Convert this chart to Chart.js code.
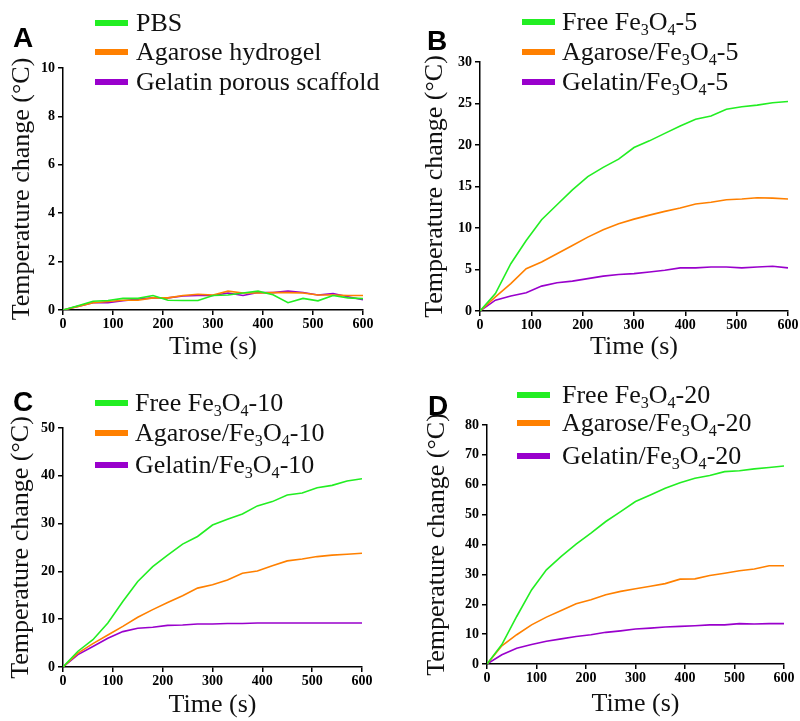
<!DOCTYPE html>
<html><head><meta charset="utf-8">
<script src="https://cdn.jsdelivr.net/npm/chart.js@4/dist/chart.umd.min.js"></script>
<style>
body{margin:0;background:#fff;width:800px;height:721px;position:relative;overflow:hidden}
.panel{position:absolute}
.panel canvas{position:absolute;left:0;top:0}
.letter{position:absolute;font:bold 28px 'Liberation Sans',Arial,sans-serif;color:#000;line-height:1}
.row{position:absolute;white-space:nowrap;font:26px 'Liberation Serif','Times New Roman',serif;color:#111;line-height:30px;height:30px}
.sw{position:absolute;width:33px;height:6px}
sub{font-size:0.62em;vertical-align:-0.28em;line-height:0}
</style></head><body>
<script>
// ---- data ----
const time = [0,30,60,90,120,150,180,210,240,270,300,330,360,390,420,450,480,510,540,570,600];

const labelsA = ['PBS','Agarose hydrogel','Gelatin porous scaffold'];
const A_pbs     = [0,0.18,0.36,0.39,0.48,0.48,0.6,0.4,0.39,0.39,0.6,0.62,0.7,0.78,0.63,0.3,0.48,0.38,0.6,0.5,0.47];
const A_agarose = [0,0.15,0.3,0.35,0.4,0.4,0.5,0.5,0.6,0.65,0.62,0.78,0.7,0.7,0.72,0.72,0.7,0.62,0.62,0.6,0.6];
const A_gelatin = [0,0.15,0.3,0.3,0.38,0.45,0.5,0.5,0.58,0.6,0.6,0.7,0.6,0.72,0.72,0.78,0.72,0.62,0.68,0.55,0.42];

const labelsB = ['Free Fe₃O₄-5','Agarose/Fe₃O₄-5','Gelatin/Fe₃O₄-5'];
const B_free    = [0,2.1,5.7,8.5,11.0,12.8,14.6,16.2,17.3,18.3,19.7,20.5,21.4,22.3,23.1,23.5,24.3,24.6,24.8,25.1,25.25];
const B_agarose = [0,1.7,3.3,5.1,5.9,6.9,7.9,8.9,9.8,10.5,11.07,11.55,12.0,12.4,12.9,13.1,13.4,13.5,13.65,13.6,13.5];
const B_gelatin = [0,1.3,1.8,2.2,3.0,3.4,3.6,3.9,4.2,4.4,4.5,4.7,4.9,5.2,5.2,5.3,5.3,5.2,5.3,5.4,5.2];

const labelsC = ['Free Fe₃O₄-10','Agarose/Fe₃O₄-10','Gelatin/Fe₃O₄-10'];
const C_free    = [0,3.3,5.7,9.2,13.7,17.9,21.0,23.4,25.7,27.3,29.7,30.9,32.0,33.7,34.6,36.0,36.4,37.5,38.0,38.9,39.4];
const C_agarose = [0,2.9,4.9,6.7,8.5,10.4,12.0,13.5,14.9,16.5,17.2,18.2,19.6,20.1,21.2,22.2,22.6,23.1,23.4,23.6,23.8];
const C_gelatin = [0,2.6,4.3,6.0,7.4,8.1,8.3,8.7,8.8,9.0,9.0,9.1,9.1,9.2,9.2,9.2,9.2,9.2,9.2,9.2,9.2];

const labelsD = ['Free Fe₃O₄-20','Agarose/Fe₃O₄-20','Gelatin/Fe₃O₄-20'];
const D_free    = [0,6.5,15.9,24.8,31.5,36.0,40.1,43.8,47.7,51.0,54.4,56.6,58.8,60.7,62.2,63.1,64.4,64.7,65.3,65.8,66.3];
const D_agarose = [0,6.1,9.8,13.1,15.7,17.9,20.2,21.5,23.2,24.3,25.2,26.0,26.9,28.4,28.5,29.6,30.4,31.2,31.8,32.9,32.9];
const D_gelatin = [0,3.1,5.3,6.5,7.6,8.4,9.2,9.8,10.6,11.1,11.7,12.0,12.4,12.6,12.8,13.1,13.1,13.5,13.4,13.5,13.5];

const yMaxes = {A:10, B:30, C:50, D:80};
const ySteps = {A:2, B:5, C:10, D:10};
const xTitle = 'Time (s)';
const yTitle = 'Temperature change (°C)';
const colors = ['#22ee22','#ff8000','#9900cc'];

// ---- layout ----
const panels = [
  {id:'A', left:0,   top:0,   w:400, h:360, labels:labelsA, series:[A_pbs,A_agarose,A_gelatin],
   yW:63, padT:68, padR:37, xH:50, yTitlePad:9, xTitlePad:0,
   letter:[13,24], legend:{x:95, tx:136, y:[8,37,67]}},
  {id:'B', left:400, top:0,   w:400, h:360, labels:labelsB, series:[B_free,B_agarose,B_gelatin],
   yW:80, padT:62, padR:12, xH:49, yTitlePad:22, xTitlePad:0,
   letter:[427,27], legend:{x:522, tx:562, y:[7,37,67]}},
  {id:'C', left:0,   top:360, w:400, h:361, labels:labelsC, series:[C_free,C_agarose,C_gelatin],
   yW:63, padT:68, padR:38, xH:54, yTitlePad:8, xTitlePad:3,
   letter:[13,388], legend:{x:95, tx:135, y:[388,418,450]}},
  {id:'D', left:400, top:360, w:400, h:361, labels:labelsD, series:[D_free,D_agarose,D_gelatin],
   yW:87, padT:65, padR:16, xH:57, yTitlePad:24, xTitlePad:4,
   letter:[428,392], legend:{x:517, tx:562, y:[380,408,441]}}
];

const tickFont = {family:"'Liberation Serif','Times New Roman',serif", size:14, weight:'bold'};
const titleFont = {family:"'Liberation Serif','Times New Roman',serif", size:26, lineHeight:1};

function toHTML(s){ return s.replace(/₃/g,'<sub>3</sub>').replace(/₄/g,'<sub>4</sub>'); }

panels.forEach(p => {
  const div = document.createElement('div');
  div.className = 'panel';
  div.style.cssText = `left:${p.left}px;top:${p.top}px;width:${p.w}px;height:${p.h}px`;
  const cv = document.createElement('canvas');
  cv.width = p.w; cv.height = p.h;
  cv.style.width = p.w+'px'; cv.style.height = p.h+'px';
  div.appendChild(cv);
  document.body.appendChild(div);

  const datasets = p.series.map((vals,i) => ({
    label: p.labels[i],
    data: time.map((t,k) => ({x:t, y:vals[k]})),
    borderColor: colors[i],
    backgroundColor: colors[i],
    borderWidth: 1.6,
    pointRadius: 0,
    tension: 0,
    fill: false
  }));

  const chart = new Chart(cv, {
    type: 'line',
    data: {datasets},
    options: {
      responsive: false,
      animation: false,
      devicePixelRatio: 1,
      layout: {padding: {top:p.padT, right:p.padR, left:0, bottom:0}},
      plugins: {legend:{display:false}, tooltip:{enabled:false}},
      scales: {
        x: {
          type:'linear', min:0, max:600,
          ticks:{stepSize:100, color:'#000', font:tickFont, padding:1, maxRotation:0},
          grid:{drawOnChartArea:false, drawTicks:true, tickLength:5, color:'#000', lineWidth:1.5},
          border:{color:'#000', width:1.5},
          title:{display:true, text:xTitle, font:titleFont, color:'#111', padding:{top:0,bottom:p.xTitlePad}},
          afterFit: s => { s.height = p.xH; }
        },
        y: {
          min:0, max:yMaxes[p.id],
          ticks:{stepSize:ySteps[p.id], color:'#000', font:tickFont, padding:3},
          grid:{drawOnChartArea:false, drawTicks:true, tickLength:5, color:'#000', lineWidth:1.5},
          border:{color:'#000', width:1.5},
          title:{display:true, text:yTitle, font:titleFont, color:'#111', padding:{top:p.yTitlePad,bottom:0}},
          afterFit: s => { s.width = p.yW; }
        }
      }
    }
  });

  // panel letter
  const L = document.createElement('div');
  L.className = 'letter';
  L.textContent = p.id;
  L.style.left = p.letter[0]+'px'; L.style.top = p.letter[1]+'px';
  document.body.appendChild(L);

  // legend built from chart datasets
  chart.data.datasets.forEach((ds,i) => {
    const sw = document.createElement('div');
    sw.className = 'sw';
    sw.style.background = ds.borderColor;
    sw.style.left = p.legend.x+'px';
    sw.style.top = (p.legend.y[i]+12)+'px';
    document.body.appendChild(sw);
    const row = document.createElement('div');
    row.className = 'row';
    row.style.left = p.legend.tx+'px';
    row.style.top = p.legend.y[i]+'px';
    row.innerHTML = toHTML(ds.label);
    document.body.appendChild(row);
  });
});
</script>
</body></html>
